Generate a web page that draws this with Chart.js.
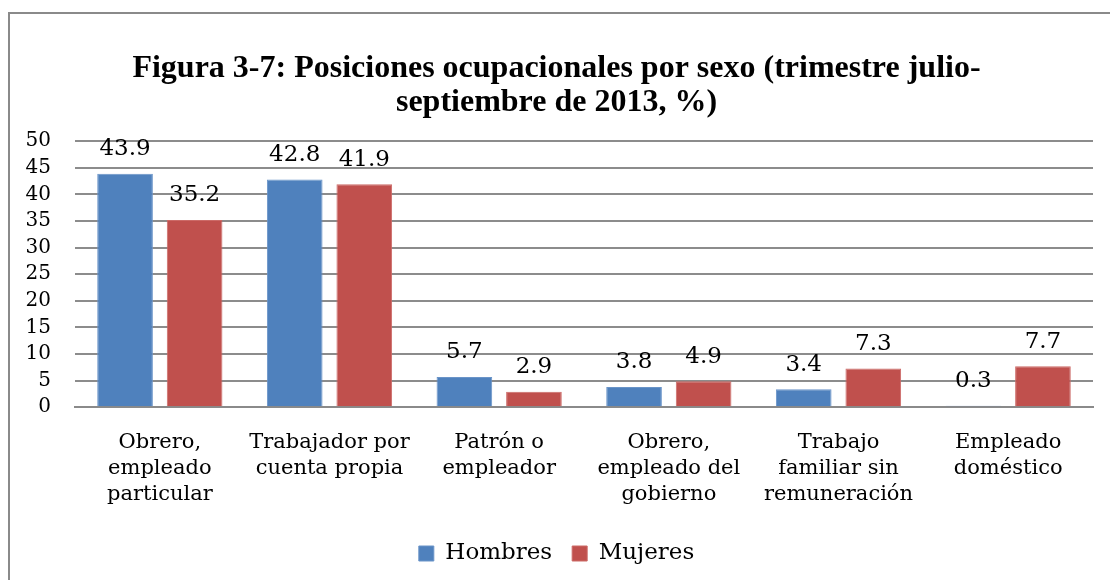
<!DOCTYPE html>
<html>
<head>
<meta charset="utf-8">
<script src="https://cdn.jsdelivr.net/npm/chart.js@4"></script>
<style>
  body { margin: 0; background: #fff; overflow: hidden; }
  #marco {
    position: absolute; left: 8px; top: 12px;
    width: 1120px; height: 600px;
    border: 2px solid #8a8a8a;
  }
  #caja { position: absolute; left: 0; top: 0; width: 1100px; height: 561px; }
</style>
</head>
<body>
<div id="marco"><div id="caja"><canvas id="grafico"></canvas></div></div>
<script>
const categorias = [
    ["Obrero,", "empleado", "particular"],
    ["Trabajador por", "cuenta propia"],
    ["Patrón o", "empleador"],
    ["Obrero,", "empleado del", "gobierno"],
    ["Trabajo", "familiar sin", "remuneración"],
    ["Empleado", "doméstico"]
];
const hombres = [43.9, 42.8, 5.7, 3.8, 3.4, 0.3];
const mujeres = [35.2, 41.9, 2.9, 4.9, 7.3, 7.7];
const titulo = ["Figura 3-7: Posiciones ocupacionales por sexo (trimestre julio-", "septiembre de 2013, %)"];

const fuente = "'DejaVu Serif', serif";

// etiquetas de valor encima de cada barra
const etiquetas = {
    id: 'etiquetas',
    afterDatasetsDraw(chart) {
        const ctx = chart.ctx;
        ctx.save();
        ctx.font = "23px " + fuente;
        ctx.fillStyle = "#000";
        ctx.textAlign = "center";
        ctx.textBaseline = "bottom";
        chart.data.datasets.forEach((ds, i) => {
            chart.getDatasetMeta(i).data.forEach((bar, j) => {
                ctx.fillText(ds.data[j].toFixed(1), bar.x, bar.y - 13);
            });
        });
        ctx.restore();
    }
};

new Chart(document.getElementById("grafico"), {
    type: 'bar',
    data: {
        labels: categorias,
        datasets: [
            { label: 'Hombres', data: hombres, backgroundColor: '#4F81BD', borderColor: '#6a94c8', borderWidth: 1 },
            { label: 'Mujeres', data: mujeres, backgroundColor: '#C0504D', borderColor: '#cc6a67', borderWidth: 1 }
        ]
    },
    options: {
        responsive: true,
        maintainAspectRatio: false,
        animation: false,
        categoryPercentage: 0.82,
        barPercentage: 0.8,
        layout: { padding: { left: 10, right: 17, top: 0, bottom: 0 } },
        plugins: {
            title: {
                display: true,
                text: titulo,
                color: '#000',
                font: { family: "'Liberation Serif', serif", size: 32, weight: 'bold', lineHeight: 1.05 },
                padding: { top: 38, bottom: 22 }
            },
            legend: {
                position: 'bottom',
                labels: {
                    color: '#000',
                    font: { family: fuente, size: 23 },
                    boxWidth: 15,
                    boxHeight: 15,
                    padding: 20
                }
            },
            tooltip: { enabled: false }
        },
        scales: {
            x: {
                grid: { display: false },
                border: { display: true, color: '#8a8a8a', width: 2 },
                ticks: { color: '#000', font: { family: fuente, size: 21, lineHeight: 1.25 }, padding: 14, maxRotation: 0 }
            },
            y: {
                min: 0,
                max: 50,
                ticks: { stepSize: 5, autoSkip: false, color: '#000', font: { family: fuente, size: 20 }, padding: 24 },
                grid: { color: '#8c8c8c', lineWidth: 2, drawTicks: false },
                border: { display: false },
                afterFit(scale) { scale.width = 55; }
            }
        }
    },
    plugins: [etiquetas]
});
</script>
</body>
</html>
